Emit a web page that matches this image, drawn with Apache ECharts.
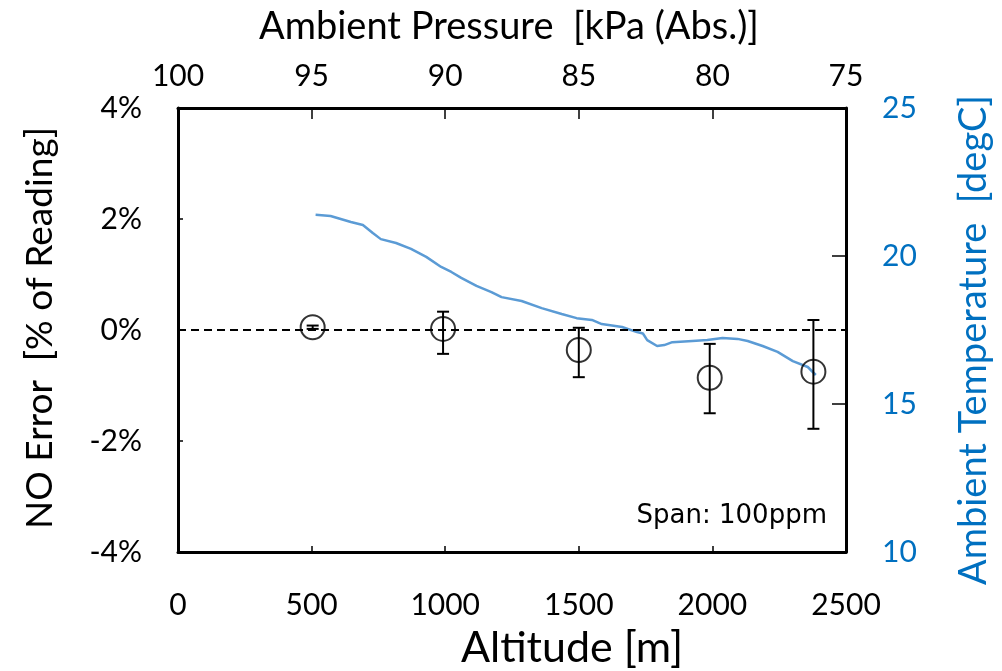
<!DOCTYPE html>
<html>
<head>
<meta charset="utf-8">
<script src="https://cdn.jsdelivr.net/npm/echarts@6/dist/echarts.min.js"></script>
<style>
    html, body { margin: 0; padding: 0; background: #fff; }
    #chart { width: 1002px; height: 671px; }
</style>
</head>
<body>
<div id="chart"></div>
<script>
// 测量点 (altitude, NO error %, error bar range)
let altitude = [504, 992, 1500, 1990, 2378];
let noError = [0.05, 0.02, -0.36, -0.86, -0.75];
let errHigh = [0.08, 0.33, 0.04, -0.25, 0.18];
let errLow = [0.02, -0.43, -0.85, -1.50, -1.78];

// 环境温度曲线
let tempAlt = [515, 571, 647, 692, 729, 759, 816, 872, 929, 985, 1023, 1060, 1117, 1173, 1211,
    1286, 1361, 1436, 1492, 1549, 1586, 1662, 1718, 1740, 1756, 1793, 1820, 1850, 1925, 1981,
    2038, 2094, 2132, 2188, 2244, 2301, 2357, 2387];
let tempVal = [21.39, 21.35, 21.15, 21.05, 20.78, 20.57, 20.44, 20.24, 19.97, 19.63, 19.46, 19.26, 18.99, 18.78, 18.61,
    18.48, 18.24, 18.04, 17.90, 17.84, 17.70, 17.60, 17.43, 17.38, 17.16, 16.96, 16.99, 17.09, 17.13, 17.16,
    17.23, 17.20, 17.13, 16.96, 16.76, 16.45, 16.25, 15.98];

let font = 'Lato';
let blue = '#0070C0';

let chart = echarts.init(document.getElementById('chart'));

let points = altitude.map((a, i) => [a, noError[i]]);
let bars = altitude.map((a, i) => [a, errLow[i], errHigh[i]]);
let temps = tempAlt.map((a, i) => [a, tempVal[i]]);

// 轴标题
function title(text, x, y, size, color, rot) {
    return {
        type: 'text', x: x, y: y, rotation: rot || 0,
        style: { text: text, fontFamily: font, fontSize: size, fill: color, align: 'center', verticalAlign: 'middle' }
    };
}

let option = {
    animation: false,
    grid: { left: 178, right: 156, top: 108, bottom: 119, containLabel: false, outerBoundsMode: 'none' },
    xAxis: [
        {
            type: 'value', position: 'bottom', min: 0, max: 2500, interval: 500,
            axisLine: { onZero: false, lineStyle: { color: '#000', width: 3 } },
            axisTick: { inside: true, length: 6, lineStyle: { color: '#000', width: 1.5 } },
            axisLabel: { fontFamily: font, fontSize: 30, color: '#000', margin: 38, formatter: v => String(v) },
            splitLine: { show: false }
        },
        {
            type: 'value', position: 'top', min: 75, max: 100, interval: 5, inverse: true,
            axisLine: { onZero: false, lineStyle: { color: '#000', width: 3 } },
            axisTick: { inside: true, length: 11, lineStyle: { color: '#000', width: 1.5 } },
            axisLabel: { fontFamily: font, fontSize: 30, color: '#000', margin: 17 },
            splitLine: { show: false }
        }
    ],
    yAxis: [
        {
            type: 'value', position: 'left', min: -4, max: 4, interval: 2,
            axisLine: { onZero: false, lineStyle: { color: '#000', width: 3 } },
            axisTick: { inside: true, length: 5, lineStyle: { color: '#000', width: 1.5 } },
            axisLabel: { fontFamily: font, fontSize: 30, color: '#000', margin: 36,
                formatter: '{value}%' },
            splitLine: { show: false }
        },
        {
            type: 'value', position: 'right', min: 10, max: 25, interval: 5,
            axisLine: { onZero: false, lineStyle: { color: '#000', width: 3 } },
            axisTick: { inside: true, length: 14, lineStyle: { color: '#000', width: 1.5 } },
            axisLabel: { fontFamily: font, fontSize: 30, color: blue, margin: 36 },
            splitLine: { show: false }
        }
    ],
    graphic: [
        title('Altitude [m]', 572, 648, 43, '#000'),
        title('Ambient Pressure  [kPa (Abs.)]', 509, 27, 38, '#000'),
        title('NO Error  [% of Reading]', 40, 328, 37, '#000', Math.PI / 2),
        title('Ambient Temperature  [degC]', 974, 340, 38, blue, Math.PI / 2),
        {
            type: 'text', right: 175, top: 503,
            style: { text: 'Span: 100ppm', fontFamily: 'DejaVu Sans', fontSize: 26, fill: '#000' }
        }
    ],
    series: [
        {
            name: 'Temperature', type: 'line', xAxisIndex: 0, yAxisIndex: 1,
            data: temps, showSymbol: false, symbol: 'none',
            lineStyle: { color: '#5B9BD5', width: 2.5 },
            z: 2
        },
        {
            name: 'ErrorBar', type: 'custom', xAxisIndex: 0, yAxisIndex: 0,
            data: bars,
            renderItem: (params, api) => {
                let top = api.coord([api.value(0), api.value(2)]);
                let bottom = api.coord([api.value(0), api.value(1)]);
                let half = 6;
                let style = { stroke: '#000', lineWidth: 2 };
                return {
                    type: 'group',
                    children: [
                        { type: 'line', shape: { x1: top[0], y1: top[1], x2: bottom[0], y2: bottom[1] }, style: style },
                        { type: 'line', shape: { x1: top[0] - half, y1: top[1], x2: top[0] + half, y2: top[1] }, style: style },
                        { type: 'line', shape: { x1: bottom[0] - half, y1: bottom[1], x2: bottom[0] + half, y2: bottom[1] }, style: style }
                    ]
                };
            },
            z: 3
        },
        {
            name: 'NO Error', type: 'scatter', xAxisIndex: 0, yAxisIndex: 0,
            data: points, symbol: 'circle', symbolSize: 24,
            itemStyle: { color: 'rgba(0,0,0,0)', borderColor: '#000', borderWidth: 2 },
            markLine: {
                silent: true, symbol: 'none', label: { show: false },
                lineStyle: { color: '#000', type: [8, 5], width: 2 },
                data: [{ yAxis: 0 }]
            },
            z: 4
        }
    ]
};

chart.setOption(option);
</script>
</body>
</html>
